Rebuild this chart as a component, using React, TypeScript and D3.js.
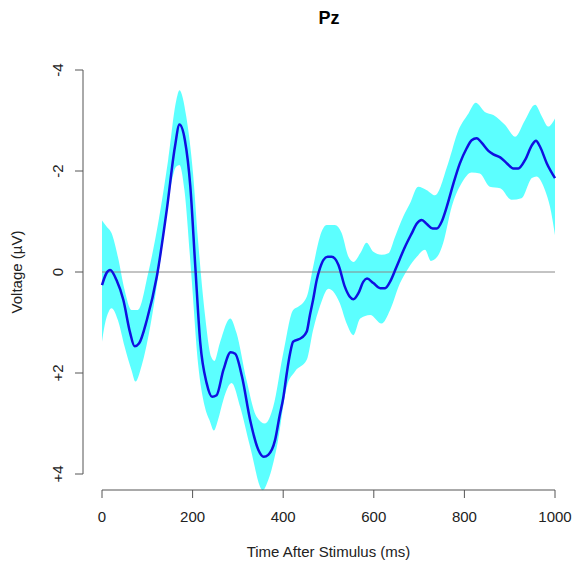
import React from 'react';
import * as d3 from 'd3';

// ERP at Pz: grand mean with confidence band (readings)
const meanTime = [0, 10, 18, 32, 47, 62, 72, 82, 99, 121, 143, 161, 171, 183, 195, 206, 217, 231, 243, 253, 268, 284, 294, 309, 327, 345, 357, 367, 382, 392, 400, 408, 415, 422, 441, 452, 459, 466, 474, 481, 489, 498, 507, 522, 536, 547, 555, 566, 577, 585, 599, 614, 625, 636, 650, 669, 684, 695, 706, 717, 730, 739, 750, 761, 776, 790, 805, 816, 827, 838, 853, 864, 879, 894, 908, 919, 934, 949, 958, 967, 982, 1000];
const meanValue = [0.26, 0.02, -0.04, 0.16, 0.55, 1.2, 1.47, 1.41, 0.95, 0.09, -1.23, -2.48, -2.92, -2.61, -1.69, -0.1, 1.41, 2.2, 2.47, 2.44, 1.94, 1.59, 1.62, 2.07, 2.93, 3.52, 3.66, 3.62, 3.33, 2.85, 2.5, 2.0, 1.62, 1.38, 1.3, 1.18, 0.85, 0.55, 0.16, -0.07, -0.24, -0.3, -0.3, -0.14, 0.29, 0.49, 0.54, 0.42, 0.19, 0.13, 0.22, 0.32, 0.32, 0.19, -0.1, -0.5, -0.77, -0.96, -1.03, -0.95, -0.86, -0.86, -1.0, -1.29, -1.76, -2.15, -2.45, -2.61, -2.65, -2.56, -2.4, -2.33, -2.27, -2.15, -2.05, -2.05, -2.22, -2.51, -2.6, -2.48, -2.15, -1.86];

const upperTime = [0, 10, 21, 35, 50, 65, 79, 102, 124, 146, 164, 171, 186, 201, 212, 227, 241, 248, 260, 283, 297, 319, 341, 360, 378, 400, 422, 433, 452, 466, 481, 496, 514, 529, 544, 555, 570, 584, 599, 617, 632, 647, 665, 680, 698, 717, 735, 764, 787, 809, 825, 845, 864, 890, 912, 934, 956, 971, 985, 1000];
const upperValue = [-1.02, -0.9, -0.77, -0.3, 0.36, 0.75, 0.75, 0.02, -0.97, -2.22, -3.4, -3.6, -3.08, -1.95, -0.63, 0.82, 1.68, 1.76, 1.41, 0.92, 1.21, 2.14, 2.86, 3.0, 2.67, 1.61, 0.75, 0.69, 0.49, -0.1, -0.7, -0.93, -0.93, -0.77, -0.3, -0.2, -0.37, -0.58, -0.4, -0.34, -0.37, -0.7, -1.1, -1.36, -1.69, -1.62, -1.52, -2.15, -2.81, -3.14, -3.35, -3.17, -3.11, -2.91, -2.68, -3.01, -3.31, -3.08, -2.88, -3.04];

const lowerTime = [0, 6, 15, 21, 35, 50, 65, 74, 87, 109, 131, 149, 164, 171, 182, 197, 212, 227, 238, 247, 256, 268, 286, 305, 327, 355, 367, 386, 408, 426, 452, 466, 481, 500, 510, 525, 540, 555, 570, 592, 617, 636, 658, 676, 695, 713, 726, 740, 753, 772, 794, 816, 834, 856, 879, 904, 926, 949, 959, 978, 989, 1000];
const lowerValue = [1.38, 1.05, 0.78, 0.72, 0.95, 1.48, 1.94, 2.17, 1.87, 0.95, -0.37, -1.56, -2.09, -2.12, -1.62, 0.03, 1.81, 2.67, 2.95, 3.14, 2.93, 2.53, 2.2, 2.67, 3.46, 4.32, 4.12, 3.46, 2.27, 1.97, 1.74, 1.15, 0.68, 0.33, 0.38, 0.62, 1.02, 1.25, 0.92, 0.85, 1.02, 0.75, 0.22, -0.07, -0.3, -0.44, -0.22, -0.3, -0.57, -1.29, -1.76, -1.97, -1.95, -1.69, -1.66, -1.43, -1.46, -1.86, -1.89, -1.62, -1.29, -0.73];

const xTicks = [0, 200, 400, 600, 800, 1000];
const yTicks = [-4, -2, 0, 2, 4];
const yTickLabels = ['-4', '-2', '0', '+2', '+4'];

const W = 574;
const H = 561;
const font = '"Liberation Sans", Arial, sans-serif';

export default function App() {
  const x = d3.scaleLinear().domain([0, 1000]).range([102, 555]);
  // negative up, as usual for ERPs
  const y = d3.scaleLinear().domain([-4, 4]).range([70, 474]);

  const line = d3.line<[number, number]>()
    .x(d => x(d[0]))
    .y(d => y(d[1]))
    .curve(d3.curveMonotoneX);

  const meanPts = meanTime.map((t, i) => [t, meanValue[i]] as [number, number]);
  const upperPts = upperTime.map((t, i) => [t, upperValue[i]] as [number, number]);
  const lowerPts = lowerTime.map((t, i) => [t, lowerValue[i]] as [number, number]).reverse();

  const bandPath = line(upperPts) + 'L' + (line(lowerPts) || '').slice(1) + 'Z';

  const axisColor = '#555';

  return (
    <svg width={W} height={H} style={{ position: 'absolute', left: 0, top: 0 }} fontFamily={font}>
      <rect width={W} height={H} fill="#fff" />

      {/* confidence band */}
      <path d={bandPath} fill="#5cffff" stroke="none" />

      {/* zero line */}
      <line x1={x(0)} x2={x(1000)} y1={y(0)} y2={y(0)} stroke="#888" strokeWidth={1} />

      {/* mean waveform */}
      <path d={line(meanPts) || ''} fill="none" stroke="#1010e0" strokeWidth={2.5} strokeLinejoin="round" />

      {/* x axis */}
      <g>
        <line x1={x(0)} x2={x(1000)} y1={490} y2={490} stroke={axisColor} />
        {xTicks.map(t => (
          <g key={t}>
            <line x1={x(t)} x2={x(t)} y1={490} y2={498} stroke={axisColor} />
            <text x={x(t)} y={522} textAnchor="middle" fontSize={15} fill="#222">{t}</text>
          </g>
        ))}
        <text x={x(500)} y={557} textAnchor="middle" fontSize={15} fill="#222">Time After Stimulus (ms)</text>
      </g>

      {/* y axis */}
      <g>
        <line x1={83} x2={83} y1={y(-4)} y2={y(4)} stroke={axisColor} />
        {yTicks.map((v, i) => (
          <g key={v}>
            <line x1={75} x2={83} y1={y(v)} y2={y(v)} stroke={axisColor} />
            <text transform={`translate(63,${y(v)}) rotate(-90)`} textAnchor="middle" fontSize={15} fill="#222">{yTickLabels[i]}</text>
          </g>
        ))}
        <text transform={`translate(22,${y(0)}) rotate(-90)`} textAnchor="middle" fontSize={15} fill="#222">Voltage (µV)</text>
      </g>

      <text x={329} y={24} textAnchor="middle" fontSize={18} fontWeight="bold" fill="#000">Pz</text>
    </svg>
  );
}
